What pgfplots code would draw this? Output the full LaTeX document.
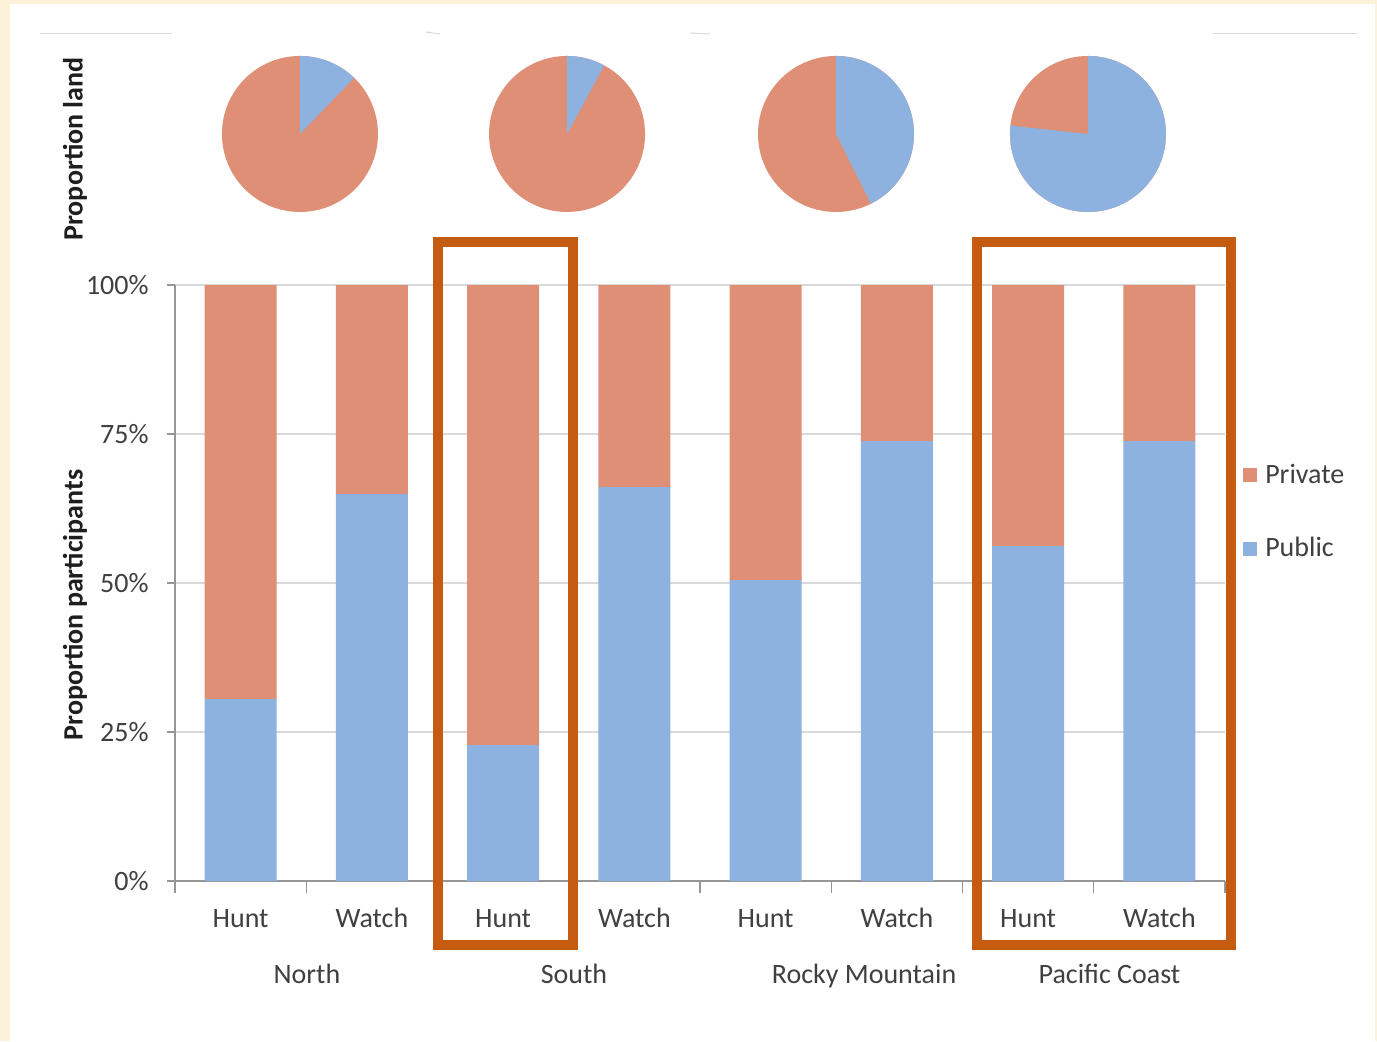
\documentclass[border=0pt]{standalone}
\usepackage{pgfplots}
\pgfplotsset{compat=1.18}
\usepackage{pgfplotstable}
\usepackage{fontspec}
\setmainfont{Carlito}

\definecolor{privcol}{RGB}{222,143,118}
\definecolor{pubcol}{RGB}{142,178,224}
\definecolor{boxcol}{RGB}{197,90,17}
\definecolor{cream}{RGB}{252,242,218}
\definecolor{gridcol}{RGB}{217,217,217}
\definecolor{axcol}{RGB}{150,150,150}
\definecolor{txtcol}{RGB}{64,64,64}
\definecolor{ttlcol}{RGB}{30,30,30}

% share of participants using public and private land
\pgfplotstableread{
x region activity public private
0 North   Hunt  0.305 0.695
1 North   Watch 0.649 0.351
2 South   Hunt  0.228 0.772
3 South   Watch 0.661 0.339
4 Rocky   Hunt  0.505 0.495
5 Rocky   Watch 0.738 0.262
6 Pacific Hunt  0.562 0.438
7 Pacific Watch 0.738 0.262
}\participants

% land ownership pie around a named centre: #1 = centre, #2 = public land in percent
\newcommand{\landpie}[2]{%
  \fill[privcol] (#1) circle[radius=39pt];
  \fill[pubcol] (#1) -- ++(90:39pt)
     arc[start angle=90, delta angle=-3.6*#2, radius=39pt] -- cycle;
}

\newcommand{\lblfont}{\fontsize{14}{16.5}\selectfont}

\begin{document}
\begin{tikzpicture}
\useasboundingbox (0,0) rectangle (688.5pt,520.5pt);
\fill[cream] (0,0) rectangle (688.5pt,520.5pt);
\fill[white] (5pt,0) rectangle (687.5pt,518.5pt);
% faint rules along the top
\draw[gridcol, line width=0.5pt] (20pt,503.5pt) -- (86pt,503.5pt);
\draw[gridcol, line width=0.5pt] (606.5pt,503.5pt) -- (678.5pt,503.5pt);
\draw[gridcol, line width=0.5pt] (213pt,504.5pt) -- (220pt,503.5pt);
\draw[gridcol, line width=0.5pt] (345pt,504pt) -- (355pt,503.5pt);

\begin{axis}[
  at={(87.5pt,80pt)}, anchor=south west,
  scale only axis, width=525pt, height=298pt,
  clip=false,
  ybar stacked, bar width=36pt,
  xmin=-0.5, xmax=7.5, ymin=0, ymax=1,
  axis x line*=bottom, axis y line*=left,
  axis line style={draw=axcol, line width=0.6pt},
  xtick={0,...,7},
  xticklabels={Hunt,Watch,Hunt,Watch,Hunt,Watch,Hunt,Watch},
  major x tick style={draw=none},
  minor xtick={-0.5,0.5,...,7.5},
  minor x tick style={draw=axcol, line width=0.6pt},
  minor tick length=6pt,
  ytick={0,0.25,0.5,0.75,1},
  yticklabels={0\%,25\%,50\%,75\%,100\%},
  major y tick style={draw=axcol, line width=0.6pt},
  major tick length=4pt,
  tick align=outside,
  ymajorgrids, grid style={draw=gridcol, line width=0.6pt},
  tick label style={font=\lblfont, text=txtcol},
  xticklabel style={anchor=base, yshift=-19pt, inner sep=0pt},
  yticklabel style={anchor=east, xshift=-9pt, inner sep=0pt},
  legend style={at={(1.017,0.619)}, anchor=west, draw=none, fill=none,
    font=\lblfont, text=txtcol, row sep=21.5pt, column sep=2pt, inner sep=0pt},
  legend cell align=left,
  reverse legend,
]
\addplot[fill=pubcol, draw=none,
  legend image code/.code={\fill[pubcol] (0pt,-3.5pt) rectangle (7pt,3.5pt);}]
  table[x=x, y=public] {\participants};
\addplot[fill=privcol, draw=none,
  legend image code/.code={\fill[privcol] (0pt,-3.5pt) rectangle (7pt,3.5pt);}]
  table[x=x, y=private] {\participants};
\legend{Public, Private}

% region names under the activity labels
\node[anchor=base, font=\lblfont, text=txtcol] at (axis cs:0.505,-0.1728) {North};
\node[anchor=base, font=\lblfont, text=txtcol] at (axis cs:2.540,-0.1728) {South};
\node[anchor=base, font=\lblfont, text=txtcol] at (axis cs:4.750,-0.1728) {Rocky Mountain};
\node[anchor=base, font=\lblfont, text=txtcol] at (axis cs:6.620,-0.1728) {Pacific Coast};

% centres of the land ownership pies
\coordinate (pieN) at (axis cs:0.452,1.2534);
\coordinate (pieS) at (axis cs:2.487,1.2534);
\coordinate (pieR) at (axis cs:4.536,1.2534);
\coordinate (pieP) at (axis cs:6.456,1.2534);

% highlighted groups
\draw[boxcol, line width=5pt] (axis cs:1.504,-0.1074) rectangle (axis cs:2.536,1.072);
\draw[boxcol, line width=5pt] (axis cs:5.610,-0.1074) rectangle (axis cs:7.546,1.072);
\end{axis}

% land ownership by region (public share in percent)
\landpie{pieN}{12.2}
\landpie{pieS}{7.9}
\landpie{pieR}{42.6}
\landpie{pieP}{76.7}

\node[rotate=90, font=\lblfont\bfseries, text=ttlcol] at (37.5pt,218pt) {Proportion participants};
\node[rotate=90, font=\lblfont\bfseries, text=ttlcol] at (37.5pt,446pt) {Proportion land};
\end{tikzpicture}
\end{document}
